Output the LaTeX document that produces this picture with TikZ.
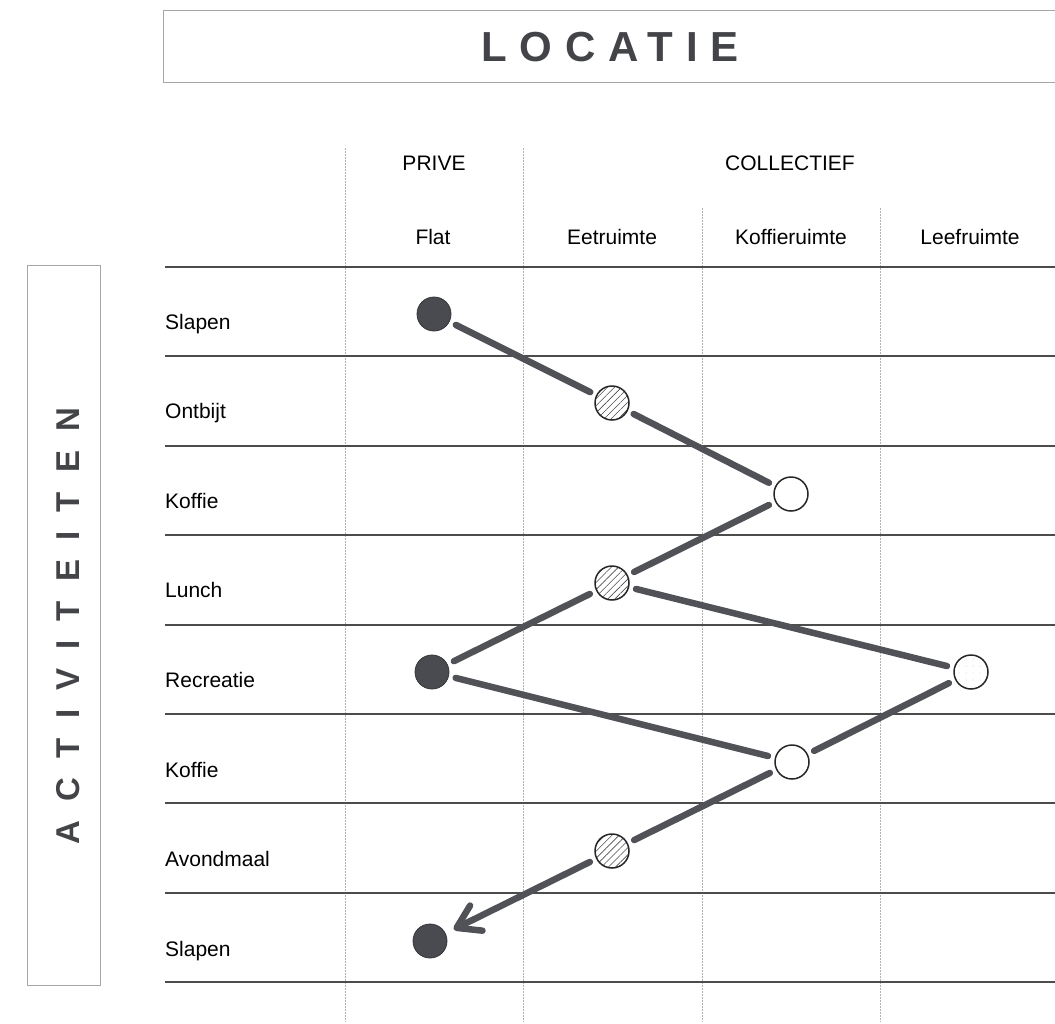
\documentclass[tikz,border=0pt]{standalone}
\usepackage{fontspec}
\setmainfont{Liberation Sans}
\newfontfamily\titelfont[LetterSpace=30]{Liberation Sans}
\newfontfamily\zijfont[LetterSpace=58]{Liberation Sans}
\usetikzlibrary{arrows.meta,patterns.meta}

\definecolor{donker}{HTML}{4A4B50}
\definecolor{lijn}{HTML}{505257}

\begin{document}
\begin{tikzpicture}[%
    x=1pt, y=-1pt,
    >={Straight Barb[length=22pt,width=28pt,round]},
    font=\fontsize{21}{25}\selectfont,
    kader/.style={draw=gray!70, line width=0.8pt},
    titel/.style={text=donker!90!black},
    rij/.style={draw=black!70, line width=2pt},
    kolom/.style={draw=gray!60, line width=0.7pt, dash pattern=on 2pt off 1pt},
    punt/.style={circle, draw=black!85, line width=1.5pt, minimum size=34pt, inner sep=0pt},
    prive/.style={punt, fill=donker, draw=donker!70!black, line width=0.8pt},
    eten/.style={punt, pattern={Lines[angle=45,distance=5pt,line width=0.6pt]}, pattern color=black!70},
    koffie/.style={punt, fill=white},
    leef/.style={punt, pattern={Dots[distance=7pt,radius=0.5pt]}, pattern color=gray!50},
    verbinding/.style={draw=lijn, line width=6.5pt, line cap=round, shorten <=7pt, shorten >=7pt}
  ]
    \useasboundingbox (0,0) rectangle (1055,1023);

    % kaders met titels
    \draw[kader] (1055,10) -- (163,10) -- (163,82) -- (1055,82);
    \node[titel, anchor=base] (locatie) at (610,61) {\titelfont\bfseries\fontsize{42}{46}\selectfont LOCATIE};
    \draw[kader] (27,265) rectangle (100,985);
    \node[titel, anchor=base, rotate=90] (activiteiten) at (79,626) {\zijfont\bfseries\fontsize{33}{36}\selectfont ACTIVITEITEN};

    % raster
    \foreach \x/\top in {345/148, 523/148, 702/208, 880/208}
      \draw[kolom] (\x,\top) -- (\x,1022);
    \foreach \i in {0,...,8}
      \draw[rij] (165,{267+89.4*\i}) -- (1055,{267+89.4*\i});

    % kopjes
    \node[anchor=base] (prive) at (434,170.5) {PRIVE};
    \node[anchor=base] (collectief) at (790,170.5) {COLLECTIEF};
    \foreach \naam/\x in {Flat/433, Eetruimte/612, Koffieruimte/791, Leefruimte/970}
      \node[anchor=base] (kop\naam) at (\x,244.5) {\naam};

    % activiteiten
    \foreach \naam [count=\i from 0] in {Slapen, Ontbijt, Koffie, Lunch, Recreatie, Koffie, Avondmaal, Slapen}
      \node[anchor=base west, inner sep=0pt] (act\i) at (165,{329+89.6*\i}) {\naam};

    % verloop over de dag
    \node[prive]  (stap1) at (434,314) {};
    \node[eten]   (stap2) at (612,403) {};
    \node[koffie] (stap3) at (791,494) {};
    \node[eten]   (stap4) at (612,583) {};
    \node[prive]  (stap5) at (432,672) {};
    \node[leef]   (stap6) at (971,672) {};
    \node[koffie] (stap7) at (792,762) {};
    \node[eten]   (stap8) at (612,851) {};
    \node[prive]  (stap9) at (430,941) {};

    \path[verbinding] (stap1) edge (stap2)
                      (stap2) edge (stap3)
                      (stap3) edge (stap4)
                      (stap4) edge (stap5)
                      (stap4) edge (stap6)
                      (stap5) edge (stap7)
                      (stap6) edge (stap7)
                      (stap7) edge (stap8);
    \draw[verbinding, ->, shorten >=9pt] (stap8) -- (stap9);
  \end{tikzpicture}
\end{document}
